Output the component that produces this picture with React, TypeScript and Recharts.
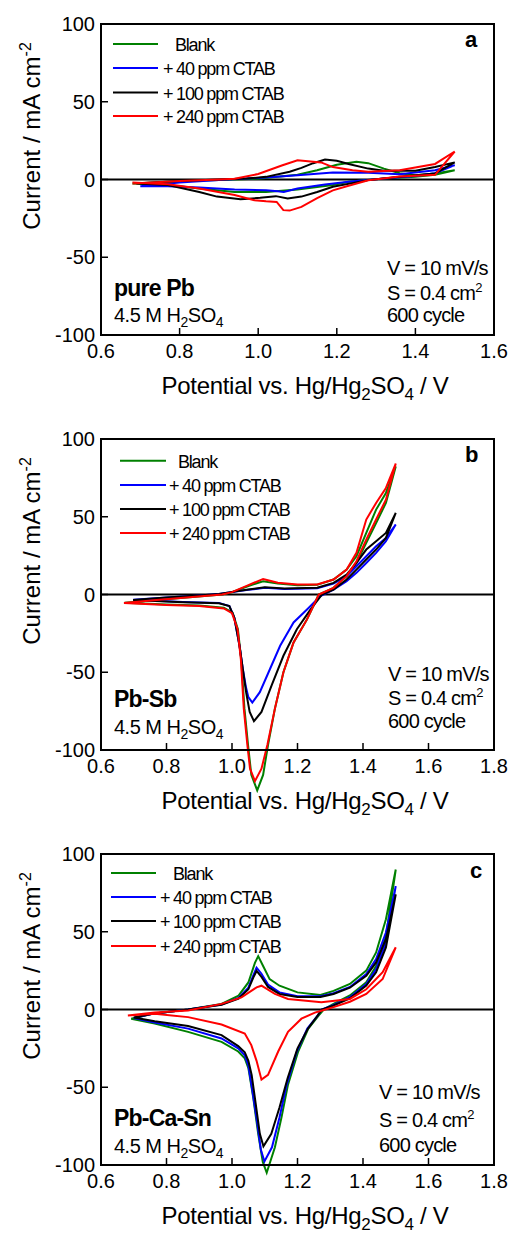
import React from 'react';
import { LineChart, Line, XAxis, YAxis, ReferenceLine, ReferenceArea } from 'recharts';

type Pt = [number, number];

// potential (V) vs current density (mA cm-2), one loop per series

// (a) pure Pb
const pureBlank: Pt[] = [
  [0.68, -2.5], [0.8, -1.2], [0.9, -0.3], [1.0, 0.5], [1.1, 3], [1.15, 6], [1.2, 9.5], [1.25, 11.4],
  [1.28, 10.5], [1.32, 7], [1.36, 4], [1.4, 2.8], [1.45, 3.8], [1.5, 6],
  [1.45, 3], [1.4, 1.7], [1.32, 0.6], [1.23, -1.5], [1.19, -3.6], [1.1, -6.4], [1.02, -8],
  [0.94, -8], [0.85, -5.8], [0.77, -3.6], [0.68, -2.5],
];
const pure40: Pt[] = [
  [0.7, -4.3], [0.8, -2], [0.9, -0.3], [1.0, 1], [1.1, 2.8], [1.19, 4.5], [1.28, 4.3], [1.36, 3.4],
  [1.45, 6], [1.5, 9.2],
  [1.45, 4], [1.4, 2.2], [1.32, 0.6], [1.23, -1.5], [1.17, -3.2], [1.1, -5.8], [1.065, -8],
  [1.05, -7.5], [1.02, -6.9], [0.94, -6.4], [0.85, -5.2], [0.77, -4.3], [0.7, -4.3],
];
const pure100: Pt[] = [
  [0.69, -2.5], [0.8, -1], [0.9, 0], [0.97, 0.6], [1.02, 1.7], [1.08, 5], [1.11, 7.5], [1.14, 10.5],
  [1.17, 12.9], [1.2, 12], [1.23, 10], [1.28, 7], [1.32, 5.6], [1.4, 5.6], [1.45, 8], [1.5, 11],
  [1.45, 3.9], [1.36, 1.7], [1.28, -0.4], [1.19, -4.7], [1.15, -8], [1.11, -11], [1.075, -12.2],
  [1.045, -10.7], [1.005, -11.8], [0.955, -12.7], [0.895, -11], [0.85, -8], [0.77, -3.6], [0.69, -2.5],
];
const pure240: Pt[] = [
  [0.68, -2.6], [0.8, -1], [0.9, 0], [0.94, 0.5], [1.0, 3.5], [1.06, 9], [1.1, 12.4], [1.16, 11],
  [1.19, 8], [1.24, 6], [1.28, 5], [1.36, 6], [1.45, 10], [1.5, 18],
  [1.45, 3], [1.36, 2], [1.28, -0.5], [1.23, -4], [1.19, -7], [1.15, -12], [1.11, -17.6],
  [1.08, -20], [1.064, -19.7], [1.047, -14.4], [1.02, -14], [0.99, -13.3], [0.94, -10],
  [0.85, -5.8], [0.77, -3], [0.68, -2],
];

// (b) Pb-Sb
const sbBlank: Pt[] = [
  [0.672, -5.3], [0.77, -3.6], [0.87, -1.7], [0.97, 0], [1.0, 1.5], [1.05, 5.5], [1.095, 8.5],
  [1.14, 7], [1.2, 6], [1.26, 6.2], [1.31, 9.6], [1.35, 16], [1.38, 24.6], [1.41, 39.6],
  [1.44, 54.6], [1.47, 65.3], [1.5, 82.4],
  [1.47, 58.9], [1.44, 46], [1.41, 33.2], [1.38, 20.3], [1.35, 11.8], [1.31, 4.3], [1.265, 0],
  [1.229, -16], [1.188, -30.8], [1.157, -50], [1.131, -73.4], [1.11, -96.8], [1.095, -116],
  [1.077, -126], [1.059, -116], [1.049, -96.8], [1.038, -73.4], [1.028, -41.5], [1.018, -22.3],
  [1.002, -11.7], [0.975, -8.5], [0.9, -7], [0.8, -6.5], [0.672, -5.3],
];
const sb40: Pt[] = [
  [0.698, -3.4], [0.8, -2], [0.9, -0.6], [0.96, 0.4], [1.05, 3], [1.1, 4.3], [1.16, 3.6],
  [1.26, 4], [1.31, 7], [1.35, 11.8], [1.38, 18.2], [1.41, 24.6], [1.44, 31], [1.47, 36.4], [1.5, 45],
  [1.47, 34.3], [1.44, 26.8], [1.41, 20.3], [1.38, 13.9], [1.35, 8.6], [1.31, 3.2], [1.27, -1],
  [1.229, -9.6], [1.188, -18], [1.147, -33], [1.116, -47.9], [1.085, -62.8], [1.062, -69.5],
  [1.05, -66], [1.043, -60], [1.033, -47.9], [1.023, -33], [1.007, -14.9], [0.992, -7.4],
  [0.96, -5.4], [0.85, -4.8], [0.698, -3.4],
];
const sb100: Pt[] = [
  [0.698, -3.6], [0.8, -2], [0.9, -0.6], [0.96, 0.4], [1.05, 3.2], [1.1, 4.7], [1.16, 3.9],
  [1.26, 4.3], [1.31, 7.5], [1.35, 12.8], [1.38, 20.3], [1.41, 28.9], [1.44, 34.3], [1.47, 39.6],
  [1.5, 52.5],
  [1.47, 36.4], [1.44, 28.9], [1.41, 22.5], [1.38, 16], [1.35, 9.6], [1.31, 3.2], [1.275, 0],
  [1.24, -9.6], [1.198, -22.3], [1.157, -39.4], [1.121, -58.5], [1.09, -75.5], [1.067, -81.5],
  [1.054, -75.5], [1.043, -62.8], [1.033, -47.9], [1.023, -33], [1.007, -14.9], [0.992, -7.4],
  [0.96, -5.6], [0.85, -5], [0.698, -3.6],
];
const sb240: Pt[] = [
  [0.67, -5.5], [0.77, -3.6], [0.87, -1.7], [0.97, 0], [1.0, 1.5], [1.05, 6], [1.095, 10],
  [1.14, 7.5], [1.2, 6.4], [1.26, 6.4], [1.31, 9.6], [1.35, 16], [1.38, 26.8], [1.41, 48.2],
  [1.44, 58.9], [1.47, 68.5], [1.5, 84.2],
  [1.47, 61], [1.44, 48.2], [1.41, 35.3], [1.38, 21.4], [1.35, 11.8], [1.31, 4.3], [1.265, 0],
  [1.229, -16], [1.188, -30.8], [1.157, -50], [1.131, -73.4], [1.108, -96.8], [1.09, -112],
  [1.07, -120], [1.055, -112], [1.047, -96.8], [1.036, -73.4], [1.027, -41.5], [1.017, -22.3],
  [1.0, -12], [0.975, -9], [0.9, -7.4], [0.8, -6.8], [0.67, -5.5],
];

// (c) Pb-Ca-Sn
const snBlank: Pt[] = [
  [0.692, -5.9], [0.764, -2.5], [0.866, 0], [0.968, 3.6], [1.02, 8.9], [1.05, 17.4], [1.07, 30],
  [1.08, 34.3], [1.095, 28], [1.115, 19.5], [1.145, 15.3], [1.2, 11], [1.27, 9.3], [1.31, 12],
  [1.36, 16.4], [1.41, 25], [1.44, 36.7], [1.47, 58], [1.5, 90],
  [1.47, 47], [1.44, 28], [1.41, 17.5], [1.36, 9], [1.31, 3.6], [1.28, 0], [1.265, -3.8],
  [1.233, -12.3], [1.202, -27], [1.171, -48.3], [1.151, -69.5], [1.131, -88.6], [1.106, -105],
  [1.094, -98], [1.08, -80], [1.065, -56.8], [1.05, -37.7], [1.039, -31.4], [1.019, -27],
  [0.968, -20.8], [0.866, -14.4], [0.764, -9], [0.692, -5.9],
];
const sn40: Pt[] = [
  [0.7, -5.5], [0.764, -2.5], [0.866, 0], [0.968, 3.2], [1.02, 7.5], [1.05, 14], [1.065, 22],
  [1.075, 26.9], [1.09, 23], [1.11, 16], [1.145, 11], [1.2, 8.5], [1.27, 8.5], [1.31, 10.5],
  [1.36, 14.5], [1.41, 22.8], [1.44, 32.4], [1.47, 49.5], [1.5, 79.3],
  [1.47, 43], [1.44, 26], [1.41, 16.4], [1.36, 7.9], [1.31, 3], [1.274, 0], [1.262, -3.8],
  [1.23, -12.3], [1.198, -27], [1.167, -48.3], [1.145, -69.5], [1.122, -88.6], [1.099, -97.7],
  [1.088, -90], [1.075, -70], [1.062, -52], [1.05, -36], [1.039, -29.5], [1.019, -25],
  [0.968, -18.6], [0.866, -12.3], [0.764, -8.3], [0.7, -5.5],
];
const sn100: Pt[] = [
  [0.7, -5.2], [0.764, -2.5], [0.866, 0], [0.968, 3], [1.02, 7], [1.05, 13], [1.065, 20.5],
  [1.075, 24.8], [1.09, 21], [1.11, 14.5], [1.145, 10], [1.2, 8], [1.27, 8], [1.31, 10],
  [1.36, 14], [1.41, 21.7], [1.44, 30.3], [1.47, 45.2], [1.5, 74],
  [1.47, 39.9], [1.44, 23.9], [1.41, 15.4], [1.36, 7.2], [1.31, 2.6], [1.274, 0], [1.262, -3.8],
  [1.232, -12.3], [1.2, -25], [1.17, -44], [1.145, -63], [1.12, -80], [1.096, -88],
  [1.085, -80], [1.072, -60], [1.06, -42], [1.05, -33], [1.039, -27.5], [1.019, -23.5],
  [0.968, -16.5], [0.866, -10.6], [0.764, -7.5], [0.7, -5.2],
];
const sn240: Pt[] = [
  [0.682, -3.8], [0.764, -2], [0.866, -0.6], [0.968, 3.6], [1.029, 7.8], [1.075, 14.2],
  [1.09, 15.3], [1.131, 10], [1.171, 6.8], [1.273, 4.7], [1.36, 6.8], [1.41, 13], [1.46, 24], [1.5, 40],
  [1.46, 19.6], [1.41, 10], [1.36, 5], [1.31, 1.5], [1.27, -1], [1.253, -2], [1.212, -5.9],
  [1.171, -14.4], [1.141, -27], [1.11, -42], [1.09, -45.1], [1.075, -33], [1.059, -22.9],
  [1.039, -15.5], [0.968, -9.7], [0.866, -4.9], [0.764, -2.8], [0.682, -3.8],
];

const SERIES_NAMES = ['Blank', '+ 40 ppm CTAB', '+ 100 ppm CTAB', '+ 240 ppm CTAB'];
const SERIES_COLORS = ['#008000', '#0000ff', '#000000', '#ff0000'];
const Y_TICKS = [-100, -50, 0, 50, 100];
const X_TICKS_A = [0.6, 0.8, 1.0, 1.2, 1.4, 1.6];
const X_TICKS_BC = [0.6, 0.8, 1.0, 1.2, 1.4, 1.6, 1.8];

const W = 510;
const H = 415;
const FONT = '"Liberation Sans", Arial, sans-serif';

const toPts = (arr: Pt[]) => arr.map(([v, i]) => ({ v, i }));

interface PanelProps {
  top: number;
  series: Pt[][];
  xMax: number;
  xTicks: number[];
  letter: string;
  letterX: number;
  letterY: number;
  alloy: string;
  alloyY: number;
  concY: number;
  infoX: number;
  infoY: number[];
  legendX: [number, number];
  legendTextX: [number, number];
  legendY: number[];
}

const Panel: React.FC<PanelProps> = (p) => {
  return (
    <div style={{ position: 'absolute', left: 0, top: p.top, width: W, height: H }}>
      <LineChart width={W} height={H} margin={{ top: 24, right: 16, bottom: 50, left: 41 }}>
        <XAxis
          type="number"
          dataKey="v"
          domain={[0.6, p.xMax]}
          ticks={p.xTicks}
          interval={0}
          allowDataOverflow
          tickFormatter={(v: number) => v.toFixed(1)}
          height={30}
          axisLine={{ stroke: '#000', strokeWidth: 2 }}
          tickLine={{ stroke: '#000', strokeWidth: 1.5 }}
          tickSize={-7}
          tickMargin={16}
          tick={{ fill: '#000', fontSize: 20 }}
        />
        <YAxis
          type="number"
          domain={[-100, 100]}
          ticks={Y_TICKS}
          interval={0}
          allowDataOverflow
          width={60}
          axisLine={{ stroke: '#000', strokeWidth: 2 }}
          tickLine={{ stroke: '#000', strokeWidth: 1.5 }}
          tickSize={-7}
          tickMargin={13}
          tick={{ fill: '#000', fontSize: 20 }}
        />
        <ReferenceArea x1={0.6} x2={p.xMax} y1={-100} y2={100} fill="none" fillOpacity={0} stroke="#000" strokeWidth={2} />
        <ReferenceLine y={0} stroke="#000" strokeWidth={2} />
        {p.series.map((s, k) => (
          <Line
            key={SERIES_NAMES[k]}
            data={toPts(s)}
            dataKey="i"
            type="linear"
            stroke={SERIES_COLORS[k]}
            strokeWidth={2}
            dot={false}
            isAnimationActive={false}
          />
        ))}
      </LineChart>
      <svg width={W} height={H} style={{ position: 'absolute', left: 0, top: 0, pointerEvents: 'none', fontFamily: FONT }}>
        {SERIES_NAMES.map((name, k) => (
          <g key={name}>
            <line x1={p.legendX[0]} x2={p.legendX[1]} y1={p.legendY[k]} y2={p.legendY[k]} stroke={SERIES_COLORS[k]} strokeWidth={2} />
            <text x={k === 0 ? p.legendTextX[0] : p.legendTextX[1]} y={p.legendY[k] + 7} fontSize={18} letterSpacing={-1.2}>
              {name}
            </text>
          </g>
        ))}
        <text x={p.letterX} y={p.letterY} fontSize={22} fontWeight="bold">{p.letter}</text>
        <text x={114} y={p.alloyY} fontSize={23} fontWeight="bold" letterSpacing={-0.8}>{p.alloy}</text>
        <text x={114} y={p.concY} fontSize={20} letterSpacing={-0.5}>
          4.5 M H<tspan dy={5} fontSize={14}>2</tspan><tspan dy={-5}>SO</tspan><tspan dy={5} fontSize={14}>4</tspan>
        </text>
        <text x={p.infoX} y={p.infoY[0]} fontSize={20} letterSpacing={-0.8}>V = 10 mV/s</text>
        <text x={p.infoX} y={p.infoY[1]} fontSize={20} letterSpacing={-0.8}>
          S = 0.4 cm<tspan dy={-8} fontSize={13}>2</tspan>
        </text>
        <text x={p.infoX} y={p.infoY[2]} fontSize={20} letterSpacing={-0.8}>600 cycle</text>
        <text transform="translate(40,136) rotate(-90)" textAnchor="middle" fontSize={24}>
          Current / mA cm<tspan dy={-9} fontSize={16}>-2</tspan>
        </text>
        <text x={305} y={394} textAnchor="middle" fontSize={24} letterSpacing={-0.3}>
          Potential vs. Hg/Hg<tspan dy={6} fontSize={17}>2</tspan><tspan dy={-6}>SO</tspan>
          <tspan dy={6} fontSize={17}>4</tspan><tspan dy={-6}> / V</tspan>
        </text>
      </svg>
    </div>
  );
};

const App: React.FC = () => {
  return (
    <div style={{ position: 'absolute', left: 0, top: 0, width: 510, height: 1233, background: '#fff', fontFamily: FONT }}>
      <style>{'.recharts-wrapper [clip-path]{clip-path:none !important}'}</style>
      <Panel
        top={0}
        series={[pureBlank, pure40, pure100, pure240]}
        xMax={1.6}
        xTicks={X_TICKS_A}
        letter="a"
        letterX={465}
        letterY={47}
        alloy="pure Pb"
        alloyY={296}
        concY={322}
        infoX={387}
        infoY={[275, 300, 322]}
        legendX={[113, 158]}
        legendTextX={[175, 163]}
        legendY={[44, 68, 92.5, 116]}
      />
      <Panel
        top={415}
        series={[sbBlank, sb40, sb100, sb240]}
        xMax={1.8}
        xTicks={X_TICKS_BC}
        letter="b"
        letterX={465}
        letterY={47}
        alloy="Pb-Sb"
        alloyY={292}
        concY={319}
        infoX={388}
        infoY={[266, 290, 313]}
        legendX={[120, 166]}
        legendTextX={[178, 169]}
        legendY={[45.7, 70, 94, 118]}
      />
      <Panel
        top={830}
        series={[snBlank, sn40, sn100, sn240]}
        xMax={1.8}
        xTicks={X_TICKS_BC}
        letter="c"
        letterX={470}
        letterY={48}
        alloy="Pb-Ca-Sn"
        alloyY={296}
        concY={323}
        infoX={379}
        infoY={[269, 297, 322]}
        legendX={[111, 156]}
        legendTextX={[173, 160]}
        legendY={[43, 67, 91, 116]}
      />
    </div>
  );
};

export default App;
